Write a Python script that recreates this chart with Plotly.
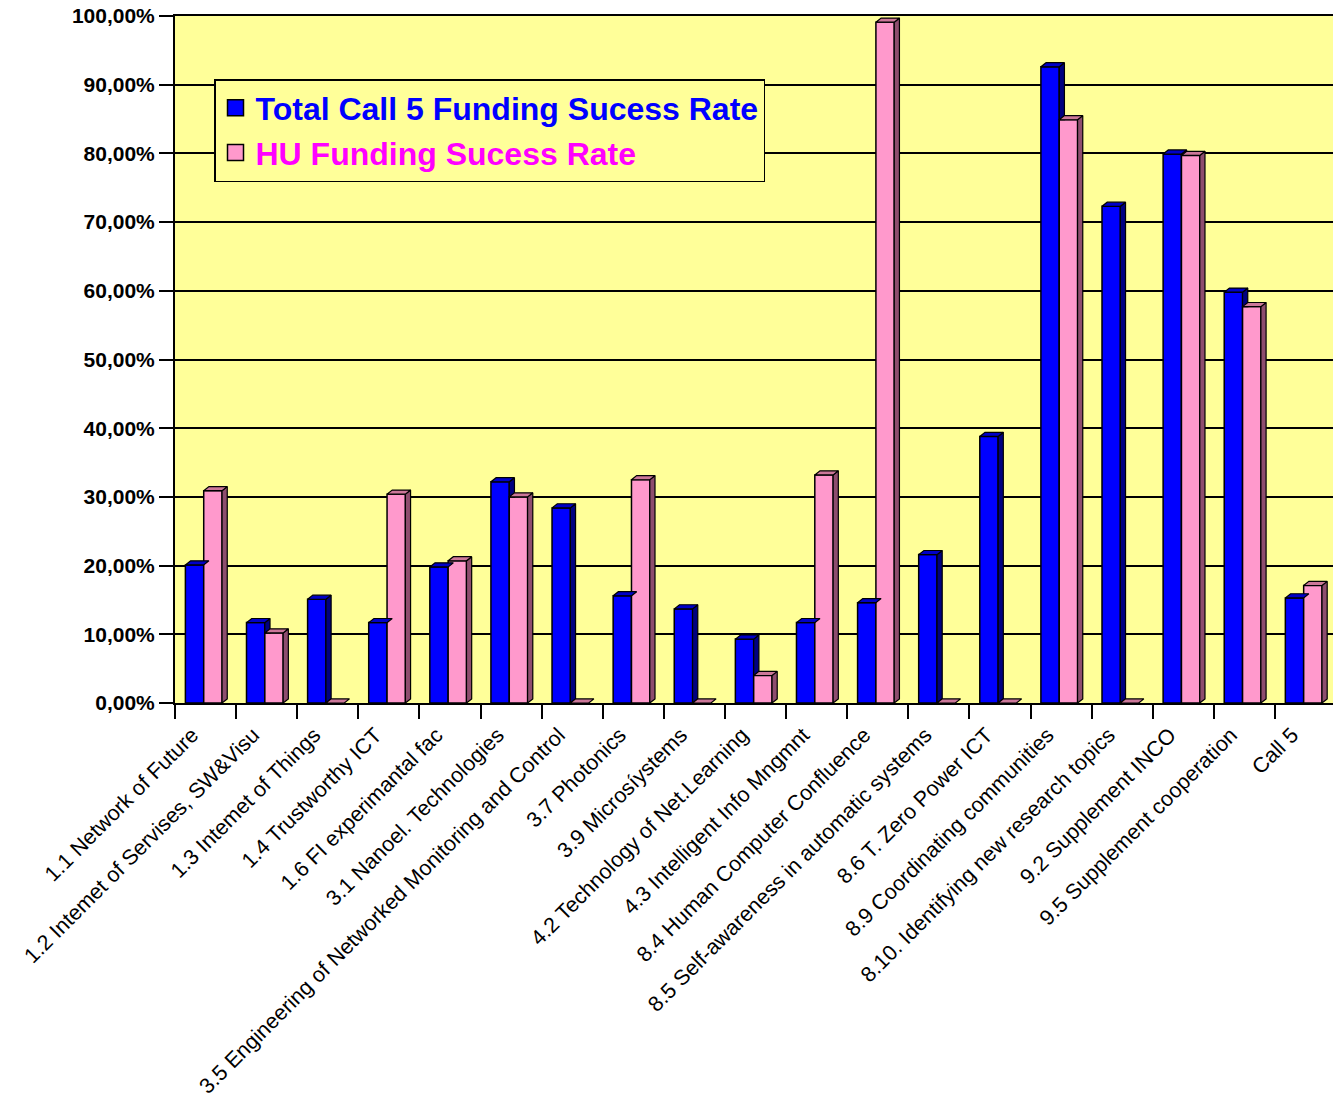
import plotly.graph_objects as go

categories = [
    "1.1 Network of Future",
    "1.2 Intemet of Servises, SW&amp;Visu",
    "1.3 Intemet of Things",
    "1.4 Trustworthy ICT",
    "1.6 FI experimantal fac",
    "3.1 Nanoel. Technologies",
    "3.5 Engineering of Networked Monitoring and Control",
    "3.7 Photonics",
    "3.9 Microsíystems",
    "4.2 Technology of Net.Learning",
    "4.3 Intelligent Info Mngmnt",
    "8.4 Human Computer Confluence",
    "8.5 Self-awareness in automatic systems",
    "8.6 T. Zero Power ICT",
    "8.9 Coordinating communities",
    "8.10. Identifying new research topics",
    "9.2 Supplement INCO",
    "9.5 Supplement cooperation",
    "Call 5",
]
total_rate = [20.1, 11.7, 15.1, 11.7, 19.8, 32.2, 28.4, 15.6, 13.7, 9.3,
              11.7, 14.6, 21.6, 38.8, 92.6, 72.3, 79.9, 59.8, 15.3]
hu_rate = [30.9, 10.2, 0.0, 30.4, 20.7, 30.0, 0.0, 32.5, 0.0, 4.0,
           33.2, 99.1, 0.0, 0.0, 84.9, 0.0, 79.7, 57.7, 17.1]

series_names = [
    "<span style='color:#0000FF'>Total Call 5 Funding Sucess Rate</span>",
    "<span style='color:#FF00FF'>HU Funding Sucess Rate</span>",
]
front_colors = ["#0000FF", "#FF99CC"]
side_colors = ["#000080", "#8E4D6E"]
top_colors = ["#0000C8", "#CC7799"]

BAR_W = 0.3      # width of one bar in category units
BAR_SHIFT = -0.03
LABEL_SHIFT = -0.22
DEPTH_X = 0.085  # 3D depth offset (category units)
DEPTH_Y = 0.6    # 3D depth offset (percent units)

x_idx = list(range(len(categories)))

fig = go.Figure()

# front faces (real bars)
for k, vals in enumerate([total_rate, hu_rate]):
    fig.add_trace(go.Bar(
        x=x_idx, y=vals, name=series_names[k], showlegend=False,
        marker=dict(color=front_colors[k], line=dict(color="black", width=1.5)),
        width=BAR_W, offset=(-BAR_W if k == 0 else 0) + BAR_SHIFT,
    ))

# 3D side and top faces, derived from the data
def faces(vals, k, other=None):
    sx, sy, tx, ty = [], [], [], []
    for i, v in enumerate(vals):
        x0 = (i - BAR_W if k == 0 else i) + BAR_SHIFT
        x1 = x0 + BAR_W
        lo = 0.0
        if other is not None:
            lo = other[i]
        if v > lo:
            sx += [x1, x1, x1 + DEPTH_X, x1 + DEPTH_X, x1, None]
            sy += [lo, v, v + DEPTH_Y, max(lo, DEPTH_Y), lo, None]
        if v > 0 or k == 1:
            tx += [x0, x0 + DEPTH_X, x1 + DEPTH_X, x1, x0, None]
            ty += [v, v + DEPTH_Y, v + DEPTH_Y, v, v, None]
    return sx, sy, tx, ty

for k, vals in enumerate([total_rate, hu_rate]):
    sx, sy, tx, ty = faces(vals, k, hu_rate if k == 0 else None)
    fig.add_trace(go.Scatter(x=sx, y=sy, mode="lines", fill="toself",
                             fillcolor=side_colors[k], line=dict(color="black", width=1.2),
                             showlegend=False, hoverinfo="skip"))
    fig.add_trace(go.Scatter(x=tx, y=ty, mode="lines", fill="toself",
                             fillcolor=top_colors[k], line=dict(color="black", width=1.2),
                             showlegend=False, hoverinfo="skip"))

# legend entries (square swatches)
for k in range(2):
    fig.add_trace(go.Scatter(
        x=[None], y=[None], mode="markers", name=series_names[k],
        marker=dict(symbol="square", size=16, color=front_colors[k],
                    line=dict(color="black", width=1.5)),
    ))

fig.update_layout(
    width=1333, height=1101,
    margin=dict(l=175, r=0, t=16, b=398, autoexpand=False),
    paper_bgcolor="white",
    plot_bgcolor="#FFFF99",
    separators=",.",
    font=dict(family="Liberation Sans, Arial, sans-serif", color="black"),
    barmode="overlay",
    showlegend=True,
    legend=dict(
        x=(214 - 175) / 1158, y=(703 - 79) / 687, xanchor="left", yanchor="top",
        bgcolor="#FFFF99", bordercolor="black", borderwidth=1.5,
        font=dict(size=32, family="Liberation Sans, Arial, sans-serif", weight="bold"),
        traceorder="normal", itemsizing="trace",
    ),
    xaxis=dict(
        range=[-0.5, 18.45], automargin=False,
        tickmode="array", tickvals=[i + LABEL_SHIFT for i in x_idx], ticktext=categories,
        tickangle=-45, ticks="", ticklabelstandoff=9,
        tickfont=dict(size=21.5),
        showgrid=False, zeroline=False,
        showline=True, linecolor="black", linewidth=2, mirror=True,
        minor=dict(tick0=-0.5, dtick=1, ticks="outside", ticklen=14,
                   tickcolor="black", tickwidth=2, showgrid=False),
    ),
    yaxis=dict(
        range=[0, 100], dtick=10, tickformat=".2f", ticksuffix="%",
        automargin=False,
        ticks="outside", ticklen=14, tickwidth=2, tickcolor="black",
        tickfont=dict(size=21, weight="bold"),
        showgrid=True, gridcolor="black", gridwidth=2,
        zeroline=False,
        showline=True, linecolor="black", linewidth=2, mirror=True,
    ),
)

fig.write_html("out.html", config={"displayModeBar": False},
               post_script="document.body.style.margin='0';")
